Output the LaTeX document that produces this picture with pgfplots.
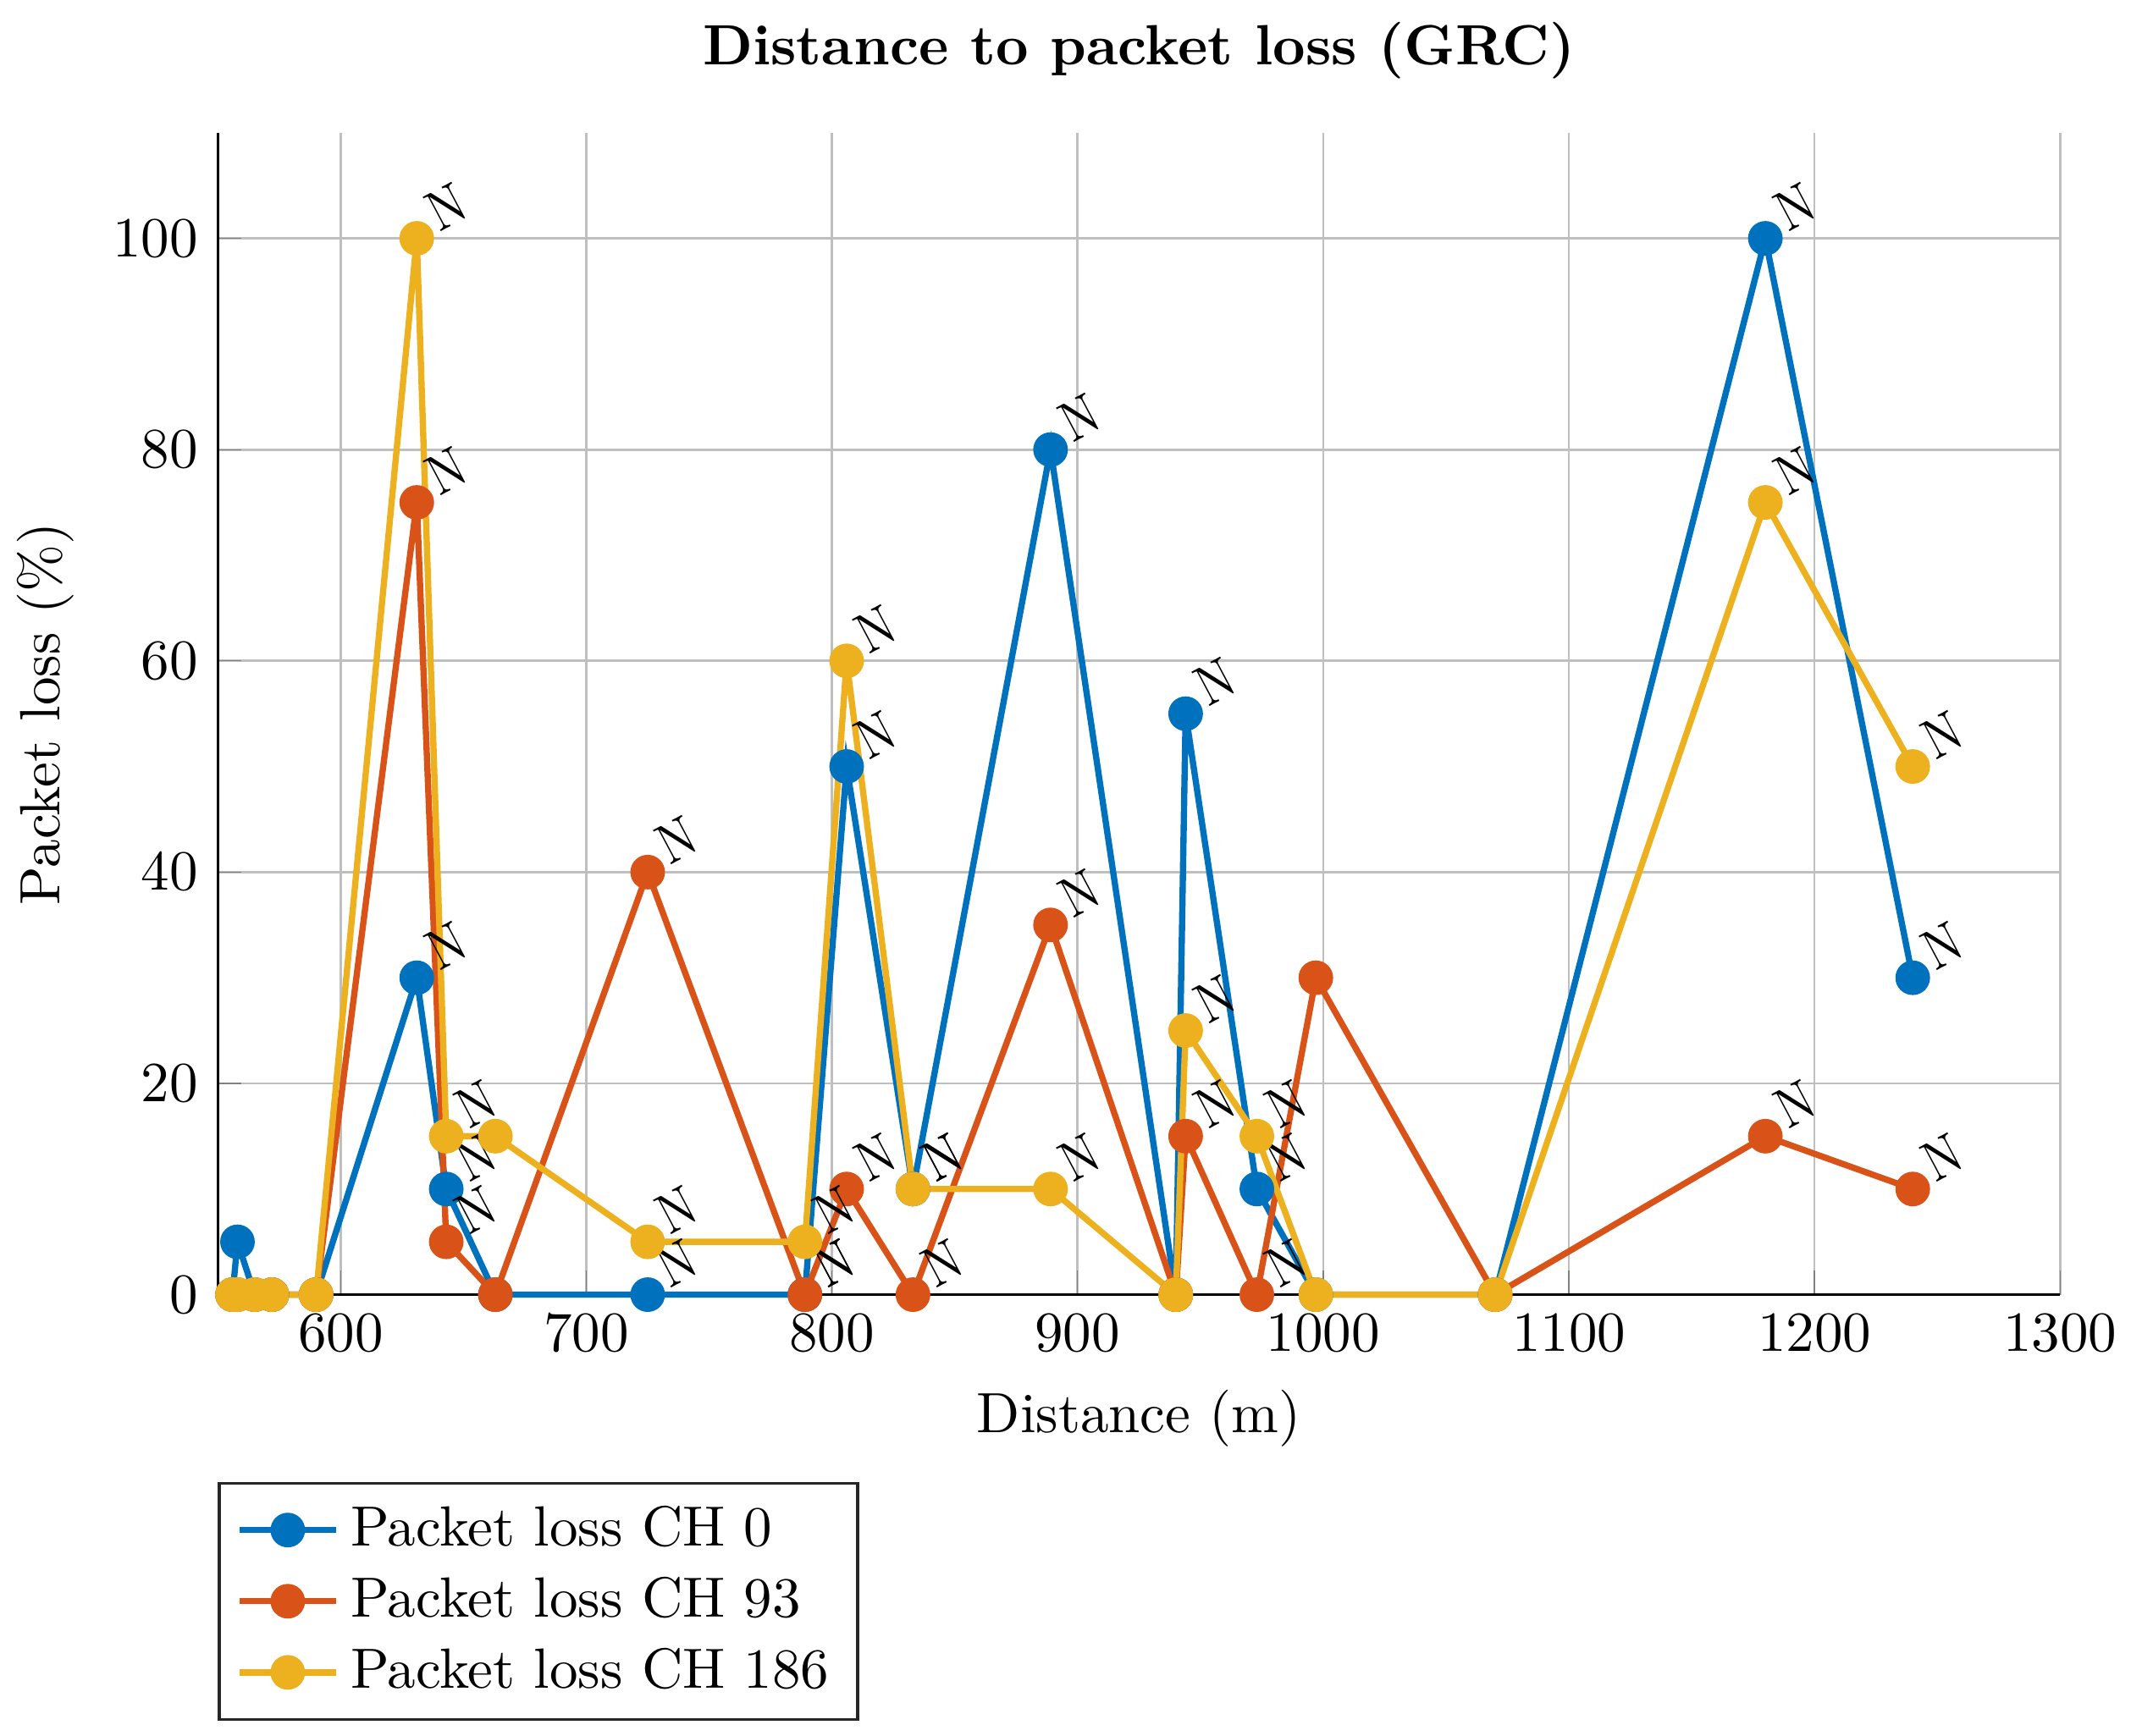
\documentclass[border=0pt]{standalone}
\usepackage{pgfplots}
\usepackage{pgfplotstable}
\pgfplotsset{compat=1.18}
\definecolor{mblue}{rgb}{0,0.447,0.741}
\definecolor{morange}{rgb}{0.85,0.325,0.098}
\definecolor{myellow}{rgb}{0.929,0.694,0.125}

\pgfplotstableread{
x y n
556 0 0
558 5 0
565 0 0
572 0 0
590 0 0
631 30 1
643 10 1
663 0 0
725 0 1
789 0 1
806 50 1
833 10 1
889 80 1
940 0 0
944 55 1
973 10 1
997 0 0
1070 0 0
1180 100 1
1240 30 1
}\chzero

\pgfplotstableread{
x y n
556 0 0
558 0 0
565 0 0
572 0 0
590 0 0
631 75 1
643 5 1
663 0 0
725 40 1
789 0 1
806 10 1
833 0 1
889 35 1
940 0 0
944 15 1
973 0 1
997 30 0
1070 0 0
1180 15 1
1240 10 1
}\chninetythree

\pgfplotstableread{
x y n
556 0 0
558 0 0
565 0 0
572 0 0
590 0 0
631 100 1
643 15 1
663 15 0
725 5 1
789 5 1
806 60 1
833 10 1
889 10 1
940 0 0
944 25 1
973 15 1
997 0 0
1070 0 0
1180 75 1
1240 50 1
}\choneeightysix

\begin{document}
\begin{tikzpicture}
\begin{axis}[
 width=324.8pt, height=204.9pt, scale only axis,
 xmin=550, xmax=1300, ymin=0, ymax=110,
 xtick={600,700,...,1300}, ytick={0,20,...,100},
 /pgf/number format/1000 sep={},
 axis x line*=bottom, axis y line*=left,
 xmajorgrids, ymajorgrids,
 major grid style={black!25, line width=0.4pt},
 tick align=inside, major tick length=4.2pt, tick style={black!50},
 xlabel={Distance (m)}, ylabel={Packet loss (\%)},
 title={\bfseries Distance to packet loss (GRC)},
 clip=false,
 legend style={at={(0,-0.161)}, anchor=north west, legend cell align=left, align=left, draw=black!85, line width=0.5pt},
 every axis plot/.append style={line width=1.1pt, mark=*, mark size=2.5pt, mark options={solid}},
 point meta=explicit symbolic,
 nodes near coords={\ifnum\pgfplotspointmeta=1 N\fi},
 every node near coord/.append style={rotate=28, yshift=-0.9pt, xscale=0.84, anchor=base west, inner xsep=4.3pt, black, font=\normalsize},
]
\addplot[color=mblue] table[x=x,y=y,meta=n]{\chzero};
\addlegendentry{Packet loss CH 0}
\addplot[color=morange] table[x=x,y=y,meta=n]{\chninetythree};
\addlegendentry{Packet loss CH 93}
\addplot[color=myellow] table[x=x,y=y,meta=n]{\choneeightysix};
\addlegendentry{Packet loss CH 186}
\end{axis}
\pgfresetboundingbox
\path[use as bounding box] ([shift={(-38.4pt,-77.8pt)}]current axis.south west) rectangle ([shift={(12.5pt,23.4pt)}]current axis.north east);
\end{tikzpicture}
\end{document}
